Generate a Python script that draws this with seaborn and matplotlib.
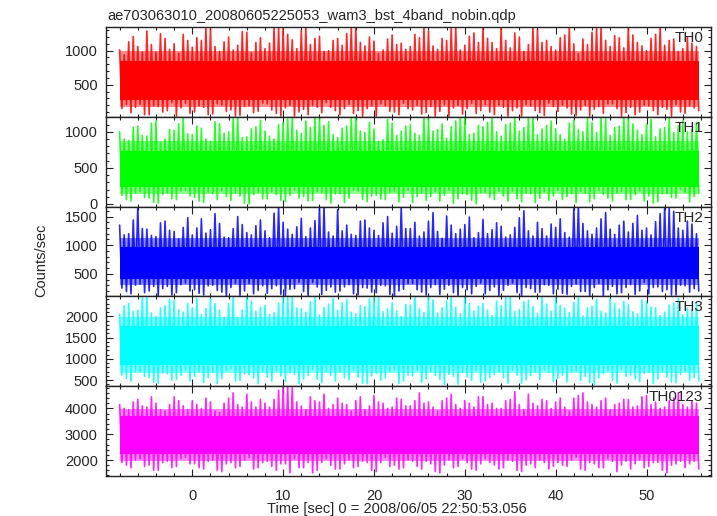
import numpy as np
import pandas as pd
import matplotlib
matplotlib.use("Agg")
import matplotlib.pyplot as plt
from matplotlib.ticker import MultipleLocator
import seaborn as sns

# ---- data: peaks every 0.5 s, troughs in between (counts/sec) ----
t_hi = list(np.arange(-8, 56, 0.5))         # peak times [sec]
t_lo = [t + 0.25 for t in t_hi]              # trough times [sec]

th0_hi = [1010, 940, 1130, 1210, 1060, 980, 1290, 1090, 980, 1250, 1180, 1020, 1100, 960, 1240, 1150,
          1050, 1190, 1150, 1340, 1320, 1060, 990, 1130, 1200, 1010, 1080, 1280, 1270, 970, 1120, 1190,
          1030, 1110, 1340, 1340, 1340, 1240, 1160, 1030, 1300, 1340, 1090, 1180, 1210, 990, 1000, 1150,
          1180, 1080, 1250, 1340, 1340, 1120, 1070, 1200, 1140, 960, 1010, 1170, 1230, 1090, 1110, 1020,
          1060, 1240, 1190, 1340, 1290, 1070, 1020, 1180, 1150, 1340, 1340, 1010, 1080, 1210, 1260, 1120,
          1330, 1180, 1120, 1030, 1340, 1150, 1040, 1260, 1200, 990, 1090, 1340, 1310, 1120, 1150, 1060,
          1010, 1190, 1230, 1340, 1100, 960, 1170, 1090, 1270, 1340, 1340, 1150, 1060, 1220, 1190, 1040,
          1340, 1230, 1120, 1070, 1000, 1180, 1240, 1340, 1080, 1150, 1170, 990, 1030, 1200, 1110, 1060]
th0_lo = [150, 210, 90, 170, 210, 60, 60, 190, 180, 100, 120, 240, 40, 160, 230, 80,
          100, 190, 170, 60, 70, 220, 200, 110, 130, 40, 50, 180, 190, 90, 110, 230,
          220, 130, 80, 40, 160, 200, 40, 100, 140, 60, 200, 170, 90, 240, 170, 120,
          60, 150, 210, 80, 120, 40, 150, 190, 40, 220, 190, 110, 100, 60, 230, 150,
          130, 200, 70, 90, 180, 40, 110, 210, 40, 160, 200, 70, 150, 230, 80, 120,
          210, 100, 60, 200, 170, 40, 120, 160, 40, 210, 190, 120, 90, 50, 230, 180,
          110, 200, 160, 70, 50, 130, 200, 40, 140, 180, 80, 220, 220, 150, 40, 90,
          170, 60, 100, 200, 190, 120, 60, 170, 140, 40, 210, 100, 80, 190, 160, 120]

th1_hi = [1000, 900, 880, 1060, 1080, 950, 940, 1120, 1150, 860, 900, 1030, 1020, 1110, 1190, 970,
          960, 1080, 1050, 900, 870, 1140, 1110, 980, 1000, 1200, 1200, 920, 930, 1040, 1070, 1160,
          1010, 940, 900, 1100, 1130, 1200, 1190, 1020, 980, 1150, 1060, 1200, 1200, 1090, 1140, 960,
          920, 1050, 1080, 1200, 1200, 1010, 990, 1130, 1040, 870, 890, 1170, 1120, 950, 1010, 1080,
          1100, 980, 950, 1200, 1180, 1010, 1030, 1110, 910, 1070, 1150, 1200, 1200, 960, 980, 1090,
          1070, 1130, 1190, 1000, 940, 1100, 1120, 1200, 1010, 1060, 1200, 1200, 960, 1040, 1090, 1150,
          1040, 960, 900, 1120, 1160, 1030, 1000, 1200, 1130, 990, 1200, 1180, 950, 1060, 1080, 1200,
          1180, 1110, 1020, 960, 1110, 1170, 930, 1040, 1060, 1200, 990, 1080, 1150, 1000, 1030, 1130]
th1_lo = [120, 60, 40, 150, 170, 90, 80, 20, 10, 130, 150, 70, 60, 180, 190, 110,
          90, 40, 20, 160, 140, 60, 180, 100, 50, 150, 110, 10, 0, 130, 160, 70,
          70, 170, 130, 50, 30, 120, 190, 80, 100, 40, 50, 170, 160, 60, 10, 140,
          140, 20, 80, 190, 180, 60, 30, 110, 120, 70, 60, 160, 170, 30, 90, 190,
          20, 100, 150, 50, 100, 170, 40, 120, 190, 10, 70, 140, 130, 50, 0, 160,
          160, 90, 60, 180, 110, 40, 180, 70, 30, 150, 140, 20, 80, 170, 50, 110,
          190, 60, 100, 140, 20, 170, 150, 30, 70, 190, 130, 80, 40, 150, 170, 60,
          60, 130, 180, 40, 110, 10, 30, 140, 140, 90, 80, 200, 160, 30, 100, 150]

th2_hi = [1350, 1180, 1200, 1440, 1660, 1290, 1280, 1170, 1150, 1390, 1420, 1260, 1240, 1110, 1310, 1480,
          1180, 1300, 1460, 1210, 1270, 1550, 1380, 1140, 1130, 1290, 1500, 1360, 1220, 1180, 1340, 1440,
          1250, 1130, 1560, 1670, 1400, 1280, 1190, 1320, 1470, 1150, 1300, 1430, 1660, 1670, 1230, 1160,
          1620, 1250, 1350, 1190, 1170, 1420, 1440, 1300, 1260, 1170, 1390, 1500, 1210, 1330, 1670, 1290,
          1290, 1400, 1160, 1230, 1420, 1570, 1240, 1120, 1510, 1350, 1200, 1280, 1360, 1490, 1130, 1220,
          1450, 1200, 1270, 1390, 1330, 1140, 1180, 1310, 1480, 1600, 1250, 1160, 1400, 1290, 1160, 1370,
          1310, 1460, 1220, 1140, 1640, 1670, 1380, 1250, 1190, 1300, 1460, 1570, 1280, 1190, 1350, 1420,
          1230, 1380, 1520, 1260, 1300, 1180, 1410, 1550, 1670, 1640, 1590, 1300, 1260, 1420, 1370, 1200]
th2_lo = [250, 190, 150, 300, 320, 170, 200, 280, 110, 240, 280, 130, 170, 310, 340, 200,
          220, 160, 130, 290, 300, 210, 180, 120, 260, 330, 120, 200, 330, 150, 210, 290,
          160, 240, 290, 140, 110, 230, 240, 350, 190, 120, 350, 270, 140, 210, 270, 180,
          200, 270, 310, 150, 130, 260, 250, 180, 170, 300, 290, 140, 110, 200, 230, 330,
          330, 220, 180, 130, 260, 310, 140, 230, 300, 170, 120, 260, 220, 150, 280, 340,
          150, 210, 270, 120, 210, 300, 340, 170, 120, 260, 240, 180, 180, 310, 300, 150,
          230, 160, 140, 280, 320, 190, 190, 120, 260, 330, 110, 220, 280, 150, 170, 260,
          310, 140, 200, 350, 150, 260, 270, 190, 220, 130, 130, 300, 290, 180, 240, 200]

th3_hi = [2050, 2250, 2300, 2120, 2150, 2470, 2470, 2080, 2000, 2200, 2250, 2400, 2380, 2150, 2100, 2300,
          2200, 2420, 2050, 2180, 2420, 2300, 2150, 1980, 2300, 2470, 1980, 2150, 2470, 2360, 2120, 2210,
          2260, 2050, 2090, 2310, 2470, 2470, 2470, 2200, 2180, 2100, 2350, 2470, 2030, 2210, 2290, 2420,
          2140, 2320, 2400, 2100, 2060, 2250, 2230, 2410, 2470, 2470, 2110, 2180, 2320, 2130, 2000, 2280,
          2270, 2470, 2180, 2090, 2470, 2390, 2080, 2200, 2360, 2470, 2210, 2060, 2440, 2300, 2130, 2240,
          2300, 2150, 2020, 2360, 2250, 2470, 2470, 2120, 2160, 2340, 2380, 2230, 2070, 2470, 2290, 2120,
          2470, 2260, 2190, 2090, 2330, 2470, 2010, 2200, 2240, 2400, 2120, 2080, 2410, 2300, 2170, 2350,
          2280, 2110, 2060, 2390, 2350, 2220, 2200, 2020, 2100, 2270, 2310, 2420, 2040, 2190, 2150, 2330]
th3_lo = [620, 540, 480, 700, 700, 590, 560, 450, 430, 670, 650, 500, 520, 610, 740, 480,
          590, 700, 450, 560, 680, 420, 540, 720, 760, 480, 500, 650, 630, 550, 420, 690,
          570, 480, 710, 600, 470, 680, 640, 420, 530, 610, 750, 520, 440, 700, 610, 480,
          690, 560, 510, 740, 580, 430, 420, 600, 660, 500, 550, 700, 730, 420, 480, 620,
          600, 730, 450, 530, 700, 610, 520, 400, 640, 590, 410, 680, 580, 500, 720, 450,
          490, 570, 630, 700, 560, 430, 740, 620, 430, 510, 610, 690, 520, 740, 680, 470,
          540, 610, 460, 700, 710, 500, 590, 440, 400, 560, 650, 720, 500, 430, 760, 590,
          620, 530, 470, 660, 690, 420, 530, 700, 580, 460, 440, 640, 710, 500, 560, 480]

th0123_hi = [4150, 4000, 3950, 4250, 4350, 4100, 4050, 4450, 4200, 3950, 3900, 4150, 4450, 4300, 4100, 3950,
             4300, 4150, 4000, 4400, 4250, 3900, 3850, 4200, 4400, 4600, 4150, 4050, 4550, 4250, 4050, 4350,
             4200, 4050, 4350, 4700, 4860, 4860, 4800, 4250, 4100, 3950, 4450, 4300, 4250, 4550, 4000, 4150,
             4400, 4200, 4150, 3900, 4300, 4450, 3950, 4100, 4500, 4250, 4200, 4000, 4050, 4400, 4350, 4100,
             4100, 4300, 4600, 4200, 4250, 4050, 3900, 4300, 4400, 4550, 4150, 4000, 4300, 4200, 4050, 4450,
             4450, 4150, 4200, 4000, 4000, 4300, 4350, 4650, 4150, 3950, 4550, 4200, 4100, 4350, 4300, 4000,
             4250, 4400, 4050, 3900, 4400, 4500, 4600, 4250, 4150, 4050, 4300, 4400, 3950, 4150, 4200, 4350,
             4350, 4050, 4100, 4450, 4500, 4150, 4250, 4000, 4050, 4300, 4400, 4600, 4150, 4050, 4300, 4200]
th0123_lo = [1900, 1800, 1700, 2000, 2050, 1750, 1800, 1600, 1600, 1900, 1950, 1700, 1750, 2050, 2100, 1850,
             1850, 1700, 1650, 1950, 2000, 1600, 1550, 1850, 1900, 1700, 1750, 2000, 2100, 1650, 1700, 1900,
             1950, 1750, 1600, 1850, 1850, 1500, 2050, 1700, 1700, 1900, 1500, 1600, 1900, 2050, 1800, 1650,
             1650, 1850, 2000, 1700, 1750, 1950, 1900, 1600, 1550, 1900, 2100, 1750, 1800, 1650, 1700, 2000,
             1950, 1750, 1650, 1950, 1850, 1550, 1500, 1800, 2000, 1700, 1750, 2050, 1900, 1650, 1600, 1850,
             2050, 1900, 1800, 1650, 1700, 2000, 1950, 1600, 1550, 1800, 1850, 1700, 2000, 1900, 1650, 1750,
             1900, 1800, 1750, 2000, 2100, 1650, 1600, 1900, 1850, 1700, 1700, 2050, 1950, 1550, 1800, 1950,
             1650, 1850, 2000, 1700, 1750, 1900, 1900, 1600, 1500, 1800, 1850, 1950, 1700, 1850, 1950, 1650]

# solid part of each band and its lighter fringe (lower, upper)
th0_core, th0_fringe = [280, 850], [180, 990]
th1_core, th1_fringe = [240, 730], [140, 870]
th2_core, th2_fringe = [410, 970], [300, 1120]
th3_core, th3_fringe = [850, 1780], [680, 1990]
th0123_core, th0123_fringe = [2220, 3720], [1950, 3980]

bands = ["TH0", "TH1", "TH2", "TH3", "TH0123"]
colors = ["#ff0000", "#00ff00", "#0000ff", "#00ffff", "#ff00ff"]
ylims = [(30, 1347), (-37, 1208), (105, 1674), (360, 2470), (1380, 4860)]
ymajor = [500, 500, 500, 500, 1000]
yminor = [100, 100, 100, 100, 200]
series = [(th0_hi, th0_lo, th0_core, th0_fringe),
          (th1_hi, th1_lo, th1_core, th1_fringe),
          (th2_hi, th2_lo, th2_core, th2_fringe),
          (th3_hi, th3_lo, th3_core, th3_fringe),
          (th0123_hi, th0123_lo, th0123_core, th0123_fringe)]

sns.set_style("ticks")
plt.rcParams["font.family"] = ["Liberation Sans", "DejaVu Sans"]
FS = 10.5

fig, axes = plt.subplots(5, 1, figsize=(7.17, 5.16), dpi=100, sharex=True)
fig.subplots_adjust(left=106 / 717, right=711 / 717, top=1 - 27 / 516,
                    bottom=1 - 476 / 516, hspace=0)

for i, ax in enumerate(axes):
    hi, lo, core, fringe = series[i]
    # zigzag: peak, trough, peak, ...
    tt, vv = [], []
    for a, b, c, d in zip(t_hi, hi, t_lo, lo):
        tt += [a, c]
        vv += [b, d]
    df = pd.DataFrame({"time": tt, "rate": vv})
    span = [tt[0], tt[-1]]
    ax.fill_between(span, fringe[0], fringe[1], color=colors[i], lw=0, alpha=0.45)
    ax.fill_between(span, core[0], core[1], color=colors[i], lw=0)
    sns.lineplot(data=df, x="time", y="rate", ax=ax, color=colors[i],
                 lw=1.2, estimator=None, sort=False, alpha=0.85)
    ax.set_xlim(-9.5, 57.1)
    ax.set_ylim(*ylims[i])
    ax.set_xlabel("")
    ax.set_ylabel("")
    ax.xaxis.set_major_locator(MultipleLocator(10))
    ax.xaxis.set_minor_locator(MultipleLocator(2))
    ax.yaxis.set_major_locator(MultipleLocator(ymajor[i]))
    ax.yaxis.set_minor_locator(MultipleLocator(yminor[i]))
    ax.tick_params(which="both", direction="in", top=True, right=True,
                   labelsize=FS, color="#222222")
    ax.tick_params(which="major", length=5, width=0.8, pad=6)
    ax.tick_params(which="minor", length=2.5, width=0.8)
    ax.tick_params(axis="x", labelbottom=(i == 4), pad=9)
    for sp in ax.spines.values():
        sp.set_linewidth(1.0)
        sp.set_color("#222222")
    ax.text(0.987, 0.955, bands[i], transform=ax.transAxes, ha="right",
            va="top", fontsize=FS + 0.5)

fig.text(107 / 717, 1 - 20 / 516, "ae703063010_20080605225053_wam3_bst_4band_nobin.qdp",
         ha="left", va="baseline", fontsize=FS)
fig.text(397 / 717, 3 / 516, "Time [sec] 0 = 2008/06/05 22:50:53.056",
         ha="center", va="baseline", fontsize=FS)
fig.text(41 / 717, 1 - 260 / 516, "Counts/sec", rotation=90, ha="center",
         va="center", fontsize=FS)

fig.savefig("out.png", dpi=100)
